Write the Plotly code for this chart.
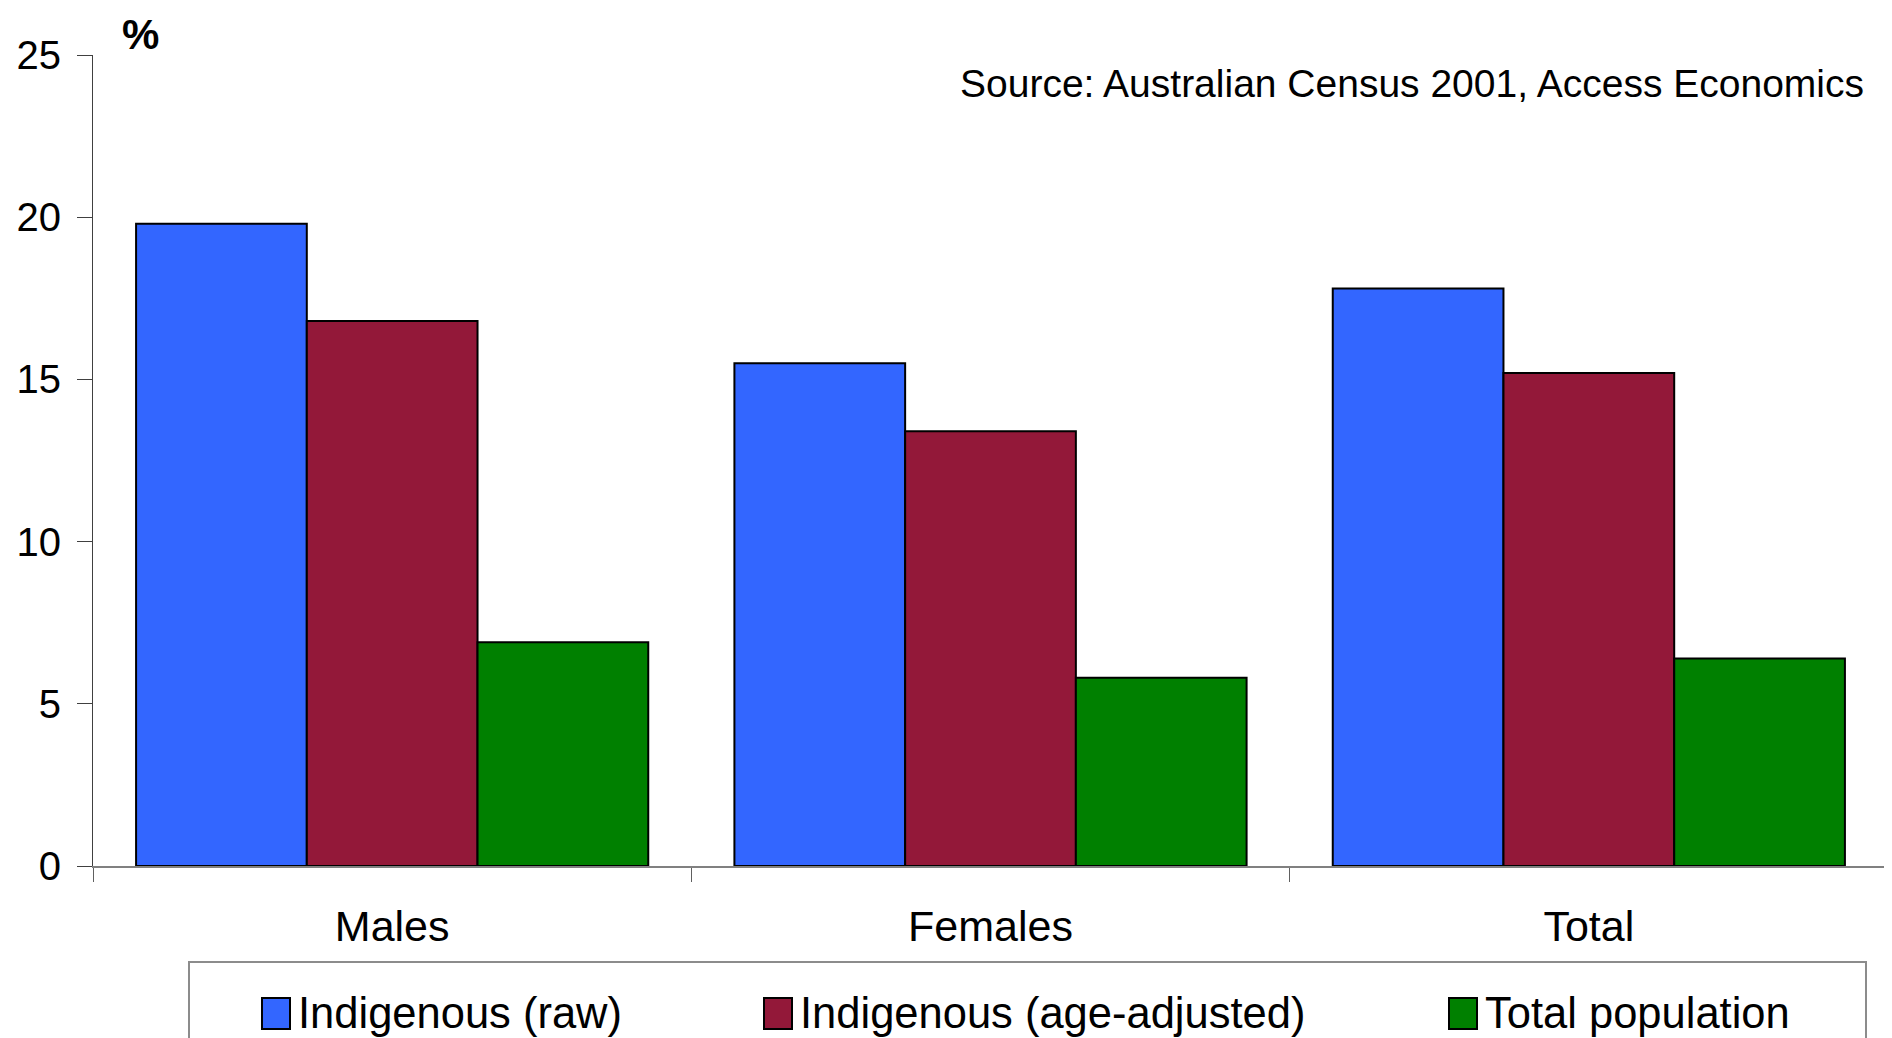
import plotly.graph_objects as go

categories = ["Males", "Females", "Total"]
series_names = ["Indigenous (raw)", "Indigenous (age-adjusted)", "Total population"]
indigenous_raw = [19.8, 15.5, 17.8]
indigenous_adj = [16.8, 13.4, 15.2]
total_population = [6.9, 5.8, 6.4]
y_ticks = [0, 5, 10, 15, 20, 25]

colors = ["#3366FF", "#931839", "#008000"]
values = [indigenous_raw, indigenous_adj, total_population]

# page has an 8px body margin; figure sized to fit the 1892x1038 window
OFF = 8
W, H = 1884, 1030
ML, MR, MT, MB = 85, 4, 47, 172
PW = W - ML - MR
PH = H - MT - MB


def px_x(x):
    # x given in window pixels
    return (x - OFF - ML) / PW


def px_y(y):
    return (H - MB - (y - OFF)) / PH


FONT = "Liberation Sans, Arial, sans-serif"

fig = go.Figure()
for name, vals, col in zip(series_names, values, colors):
    fig.add_trace(go.Bar(
        x=categories, y=vals, name=name,
        marker=dict(color=col, line=dict(color="black", width=2)),
        showlegend=False,
    ))

fig.update_layout(
    width=W, height=H,
    margin=dict(l=ML, r=MR, t=MT, b=MB, pad=0, autoexpand=False),
    paper_bgcolor="white", plot_bgcolor="white",
    barmode="group", bargap=0.144, bargroupgap=0,
    font=dict(family=FONT, size=43, color="black"),
    xaxis=dict(
        automargin=False,
        showline=True, linecolor="#808080", linewidth=2,
        ticks="outside", tickson="boundaries", ticklen=14, tickcolor="#606060", tickwidth=1,
        ticklabelstandoff=21,
        tickfont=dict(size=43, color="black"),
        showgrid=False, zeroline=False,
    ),
    yaxis=dict(
        automargin=False,
        range=[0, 25], tickvals=y_ticks,
        showline=True, linecolor="#404040", linewidth=1,
        ticks="outside", ticklen=15, tickcolor="#404040", tickwidth=1,
        ticklabelstandoff=8,
        tickfont=dict(size=40, color="black"),
        showgrid=False, zeroline=False,
    ),
)

shapes = []
annotations = []

# Legend frame
shapes.append(dict(type="rect", xref="paper", yref="paper",
                   x0=px_x(189), x1=px_x(1866), y0=px_y(1080), y1=px_y(962),
                   line=dict(color="#8c8c8c", width=2), fillcolor="white", layer="below"))

swatch_x = [262, 764, 1449]
for sx, name, col in zip(swatch_x, series_names, colors):
    shapes.append(dict(type="rect", xref="paper", yref="paper",
                       x0=px_x(sx), x1=px_x(sx + 28), y0=px_y(1029), y1=px_y(998),
                       line=dict(color="black", width=2), fillcolor=col))
    annotations.append(dict(xref="paper", yref="paper", x=px_x(sx + 34), y=px_y(1013),
                            text=name, showarrow=False, xanchor="left", yanchor="middle",
                            font=dict(size=43.5, color="black", family=FONT)))

annotations.append(dict(xref="paper", yref="paper", x=px_x(1866), y=px_y(84),
                        text="Source: Australian Census 2001, Access Economics",
                        showarrow=False, xanchor="right", yanchor="middle",
                        font=dict(size=39, color="black", family=FONT)))
annotations.append(dict(xref="paper", yref="paper", x=px_x(140), y=px_y(OFF + 1),
                        text="<b>%</b>", showarrow=False, xanchor="center", yanchor="top",
                        font=dict(size=42, color="black", family=FONT)))

fig.update_layout(shapes=shapes, annotations=annotations)

fig.write_html("out.html")
